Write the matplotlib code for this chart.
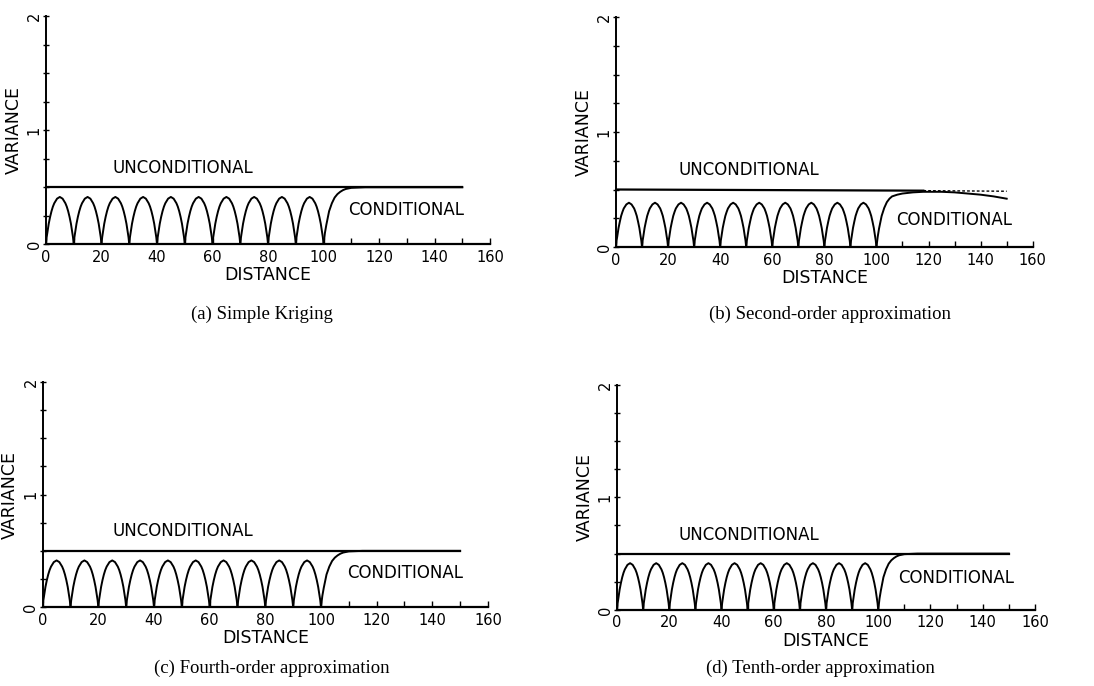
import matplotlib.pyplot as plt
from matplotlib.ticker import MultipleLocator

sample_dist = [0, 10, 20, 30, 40, 50, 60, 70, 80, 90]

# one arch between two neighbouring data points (offset from left point)
arch_offset = [0, 0.25, 0.5, 1, 1.5, 2, 2.5, 3, 4, 5, 6, 7, 7.5, 8, 8.5, 9, 9.5, 9.75, 10]
arch_var = [0, 0.06, 0.10, 0.18, 0.24, 0.29, 0.33, 0.36, 0.40, 0.415,
            0.40, 0.36, 0.33, 0.29, 0.24, 0.18, 0.10, 0.06, 0]
arch_var_b = [0, 0.055, 0.09, 0.165, 0.22, 0.27, 0.305, 0.335, 0.37, 0.385,
              0.37, 0.335, 0.305, 0.27, 0.22, 0.165, 0.09, 0.055, 0]

# conditional variance beyond the last data point
tail_dist = [100, 100.5, 101, 102, 103, 104, 105, 106, 107, 108, 110, 115, 150]
tail_var = [0, 0.10, 0.17, 0.29, 0.36, 0.41, 0.44, 0.46, 0.475, 0.485, 0.495, 0.5, 0.5]
tail_dist_b = [100, 100.5, 101, 102, 103, 104, 105, 106, 108, 110, 114, 118,
               125, 130, 135, 140, 145, 150]
tail_var_b = [0, 0.09, 0.16, 0.27, 0.34, 0.39, 0.42, 0.44, 0.455, 0.465, 0.475, 0.48,
              0.48, 0.475, 0.465, 0.455, 0.44, 0.42]

# unconditional variance
uncond_dist = [0, 150]
uncond_var = [0.5, 0.5]
uncond_dist_b = [0, 118]
uncond_var_b = [0.5, 0.49]
uncond_dash_dist_b = [118, 150]
uncond_dash_var_b = [0.49, 0.485]

captions = ["(a) Simple Kriging", "(b) Second-order approximation",
            "(c) Fourth-order approximation", "(d) Tenth-order approximation"]

positions = [[0.042, 0.644, 0.406, 0.332],
             [0.563, 0.640, 0.381, 0.335],
             [0.039, 0.115, 0.407, 0.328],
             [0.564, 0.111, 0.382, 0.328]]
cap_xy = [(262, 314), (830, 314), (272, 668), (820, 668)]
label_pos = [[(24, 0.67), (109, 0.30)],
             [(24, 0.67), (107.5, 0.235)],
             [(25, 0.675), (109.5, 0.30)],
             [(23.5, 0.667), (107.5, 0.285)]]

fig = plt.figure(figsize=(10.94, 6.86), dpi=100)

for i in range(4):
    ax = fig.add_axes(positions[i])
    av = arch_var_b if i == 1 else arch_var
    for s in sample_dist:
        ax.plot([s + o for o in arch_offset], av, color="black", lw=1.4)
    if i == 1:
        ax.plot(tail_dist_b, tail_var_b, color="black", lw=1.4)
        ax.plot(uncond_dist_b, uncond_var_b, color="black", lw=1.6)
        ax.plot(uncond_dash_dist_b, uncond_dash_var_b, color="black", lw=1.0,
                ls=(0, (2, 1.5)))
    else:
        ax.plot(tail_dist, tail_var, color="black", lw=1.4)
        ax.plot(uncond_dist, uncond_var, color="black", lw=1.6)

    ax.set_xlim(0, 160)
    ax.set_ylim(0, 2)
    ax.spines["top"].set_visible(False)
    ax.spines["right"].set_visible(False)
    ax.spines["left"].set_linewidth(1.4)
    ax.spines["bottom"].set_linewidth(1.6)
    ax.xaxis.set_major_locator(MultipleLocator(20))
    ax.xaxis.set_minor_locator(MultipleLocator(10))
    ax.yaxis.set_major_locator(MultipleLocator(1))
    ax.yaxis.set_minor_locator(MultipleLocator(0.25))
    ax.tick_params(axis="x", which="both", direction="in", length=4, width=1,
                   labelsize=10.5, pad=4)
    ax.tick_params(axis="y", which="both", direction="inout", length=4, width=1,
                   labelsize=10.5, pad=1)
    for lab in ax.get_yticklabels():
        lab.set_rotation(90)
        lab.set_va("center")
    ax.set_xlabel("DISTANCE", fontsize=12.5, labelpad=1)
    ax.set_ylabel("VARIANCE", fontsize=12.5, labelpad=3)

    (ux, uy), (cx, cy) = label_pos[i]
    ax.text(ux, uy, "UNCONDITIONAL", fontsize=12, va="center", ha="left")
    ax.text(cx, cy, "CONDITIONAL", fontsize=12, va="center", ha="left")

    px, py = cap_xy[i]
    fig.text(px / 1094, 1 - py / 686, captions[i], ha="center",
             va="center", fontsize=13.5, family="Liberation Serif")

fig.savefig("out.png", dpi=100)
